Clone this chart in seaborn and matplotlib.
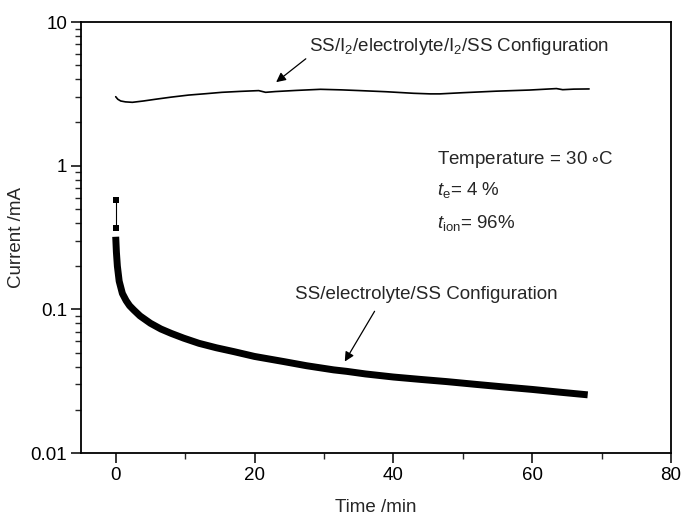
import numpy as np
import pandas as pd
import matplotlib
matplotlib.use("Agg")
import matplotlib.pyplot as plt
import seaborn as sns
from matplotlib.ticker import FixedLocator, NullFormatter, LogLocator

# ---- data ----
top_time = [0.0, 0.3, 0.72, 1.4, 2.4, 4.0, 5.75, 8.0, 10.5, 13.0, 15.3, 18.0, 20.6, 21.6, 23.0,
            26.0, 29.5, 32.5, 35.2, 39.0, 42.9, 45.3, 46.7, 50.0, 54.8, 59.6, 63.5, 64.4, 66.0, 68.2]
top_current = [3.02, 2.90, 2.82, 2.78, 2.76, 2.82, 2.90, 3.00, 3.10, 3.17, 3.24, 3.29, 3.33, 3.24, 3.28,
               3.34, 3.40, 3.37, 3.33, 3.27, 3.19, 3.16, 3.16, 3.22, 3.30, 3.36, 3.44, 3.38, 3.41, 3.42]

start_time = [0.0, 0.0]
start_current = [0.577, 0.366]

low_time = [0.0, 0.1, 0.24, 0.5, 0.96, 1.5, 2.0, 2.6, 3.5, 5.0, 6.5, 8.0, 9.8, 12.0, 14.5, 17.0,
            20.0, 24.2, 27.5, 31.4, 33.3, 36.0, 40.0, 44.0, 47.7, 52.0, 56.0, 60.0, 64.0, 68.0]
low_current = [0.32, 0.25, 0.20, 0.157, 0.129, 0.115, 0.106, 0.099, 0.090, 0.080, 0.073, 0.068,
               0.063, 0.058, 0.054, 0.0508, 0.047, 0.0433, 0.0405, 0.0379, 0.0370, 0.0355, 0.0338,
               0.0325, 0.0314, 0.0300, 0.0288, 0.0277, 0.0265, 0.0254]

x_ticks = [0, 20, 40, 60, 80]
y_ticks = [0.01, 0.1, 1, 10]
y_tick_labels = ["0.01", "0.1", "1", "10"]

top_label = "SS/I$_2$/electrolyte/I$_2$/SS Configuration"
low_label = "SS/electrolyte/SS Configuration"
info_lines = [r"Temperature = 30 $\circ$C", r"$\mathit{t}_{\rm e}$= 4 %", r"$\mathit{t}_{\rm ion}$= 96%"]

# ---- style ----
sns.set_style("ticks")
plt.rcParams["font.family"] = ["Liberation Sans", "DejaVu Sans"]
plt.rcParams["mathtext.fontset"] = "custom"
plt.rcParams["mathtext.rm"] = "Liberation Sans"
plt.rcParams["mathtext.it"] = "Liberation Sans:italic"
plt.rcParams["mathtext.default"] = "regular"

fig = plt.figure(figsize=(6.82, 5.21), dpi=100)
ax = fig.add_axes([81 / 682, 1 - 453 / 521, (671 - 81) / 682, (453 - 22) / 521])

df_top = pd.DataFrame({"t": top_time, "i": top_current})
df_start = pd.DataFrame({"t": start_time, "i": start_current})
df_low = pd.DataFrame({"t": low_time, "i": low_current})

sns.lineplot(data=df_top, x="t", y="i", ax=ax, color="black", lw=1.2, sort=False, estimator=None)
sns.lineplot(data=df_start, x="t", y="i", ax=ax, color="black", lw=0.8, sort=False, estimator=None,
             marker="s", markersize=4, markeredgewidth=0)
sns.lineplot(data=df_low, x="t", y="i", ax=ax, color="black", lw=5.0, sort=False, estimator=None,
             solid_capstyle="butt", solid_joinstyle="round")

ax.set_yscale("log")
ax.set_xlim(-5, 80)
ax.set_ylim(0.01, 10)

ax.xaxis.set_major_locator(FixedLocator(x_ticks))
ax.xaxis.set_minor_locator(FixedLocator([10, 30, 50, 70]))
ax.set_xticklabels([str(v) for v in x_ticks])
ax.yaxis.set_major_locator(FixedLocator(y_ticks))
ax.set_yticklabels(y_tick_labels)
ax.yaxis.set_minor_locator(LogLocator(base=10, subs=np.arange(2, 10)))
ax.yaxis.set_minor_formatter(NullFormatter())

ax.tick_params(which="major", direction="out", length=7, width=1.1, labelsize=13.5, pad=3,
               top=False, right=False, colors="black")
ax.tick_params(which="minor", direction="out", length=4, width=1.0, top=False, right=False)
for s in ax.spines.values():
    s.set_linewidth(1.3)
    s.set_color("black")
    s.set_visible(True)

ax.set_xlabel("Time /min", fontsize=13.5, labelpad=11)
ax.set_ylabel("Current /mA", fontsize=13.5, labelpad=4)

ax.text(27.9, 6.70, top_label, fontsize=13.5, ha="left", va="center")
ax.annotate("", xy=(22.8, 3.71), xytext=(27.7, 5.70),
            arrowprops=dict(arrowstyle="-|>", color="black", lw=0.9, mutation_scale=14))
ax.text(25.9, 0.126, low_label, fontsize=13.5, ha="left", va="center")
ax.annotate("", xy=(32.8, 0.0417), xytext=(37.5, 0.1007),
            arrowprops=dict(arrowstyle="-|>", color="black", lw=0.9, mutation_scale=14))

for yv, line in zip([1.096, 0.678, 0.399], info_lines):
    ax.text(46.3, yv, line, fontsize=13.5, ha="left", va="center")

fig.savefig("out.png", dpi=100)
